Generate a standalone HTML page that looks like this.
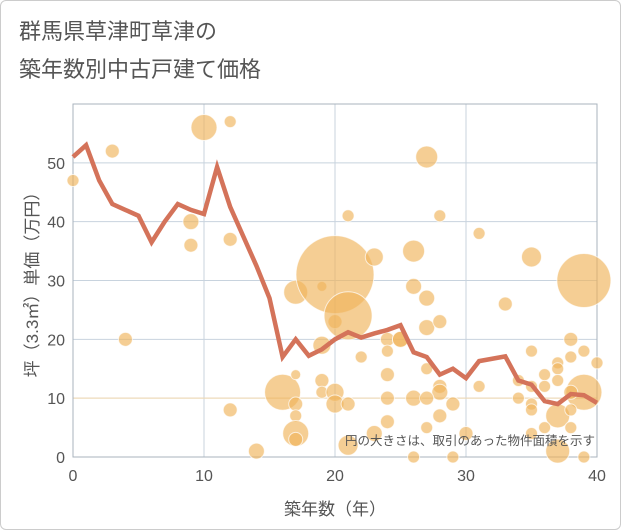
<!DOCTYPE html>
<html><head><meta charset="utf-8"><style>
body{margin:0;background:#fff;}
#wrap{position:relative;width:619px;height:528px;border:1px solid #ccc;border-radius:6px;overflow:hidden;background:#fff;font-family:"Liberation Sans","Noto Sans CJK JP",sans-serif;}
.title{position:absolute;left:18px;color:#555;font-size:22px;line-height:38px;}
</style></head><body>
<div id="wrap">
<div class="title" style="top:12px">群馬県草津町草津の<br>築年数別中古戸建て価格</div>
<svg id="chart" width="621" height="530" style="position:absolute;left:0;top:0"></svg>
</div>
<script>
const years=[0,1,2,3,4,5,6,7,8,9,10,11,12,13,14,15,16,17,18,19,20,21,22,23,24,25,26,27,28,29,30,31,32,33,34,35,36,37,38,39,40];
const avgPrice=[51,53,47,43,42,41,36.5,40,43,42,41.3,49.3,42.5,37.5,32.5,27,17,20,17.2,18.3,20,21.2,20.3,21,21.6,22.4,17.8,17,14,15,13.4,16.3,16.7,17.1,13,12.3,9.5,9,10.7,10.5,9.2];
const bubbleX=[0,3,4,9,9,10,12,12,12,14,16,17,17,17,17,17,17,19,19,19,19,20,20,20,20,21,21,21,21,22,23,23,24,24,24,24,24,25,27,28,31,26,35,39,26,27,33,27,28,25,35,38,39,38,40,37,37,36,27,31,28,34,35,36,37,39,38,28,34,26,27,29,35,35,37,38,28,27,36,35,38,30,39,37,29,26];
const bubbleY=[47,52,20,40,36,56,57,37,8,1,11,28,14,9,7,4,3,29,19,13,11,31,23,11,9,41,24,9,2,17,34,4,20,18,14,10,6,20,51,41,38,35,34,30,29,27,26,22,23,20,18,20,18,17,16,16,15,14,15,12,12,13,12,12,13,11,11,11,10,10,10,9,9,8,7,8,7,5,5,4,5,4,0,1,0,0];
const bubbleR=[6,7,7,8,7,13,6,7,7,8,18,12,5,7,6,13,7,5,9,7,6,39,7,9,9,6,24,7,10,6,9,8,7,6,7,7,7,8,11,6,6,11,10,27,8,8,7,8,7,8,6,7,6,6,6,6,6,6,6,6,7,6,6,6,6,18,7,8,6,8,7,7,6,6,12,6,7,6,6,6,6,7,6,12,6,6];
const xTicks=[0,10,20,30,40];
const yTicks=[0,10,20,30,40,50];
const L=72,R=596,T=103,B=456,XMAX=40,YMAX=60;
const sx=v=>L+(R-L)*v/XMAX, sy=v=>B-(B-T)*v/YMAX;
const svg=document.getElementById('chart');
const NS='http://www.w3.org/2000/svg';
function mk(tag,at,parent){const e=document.createElementNS(NS,tag);for(const k in at)e.setAttribute(k,at[k]);(parent||svg).appendChild(e);return e;}
yTicks.forEach(v=>{
 const g=mk('line',{x1:L,x2:R,y1:sy(v),y2:sy(v),stroke:'#c8d3de','stroke-width':1});
 
 
 const t=mk('text',{x:L-8,y:sy(v)+6,'text-anchor':'end','font-size':16,fill:'#555'});
 t.textContent=v;
 
 
});
xTicks.forEach(v=>{
 const g=mk('line',{x1:sx(v),x2:sx(v),y1:T,y2:B,stroke:'#c8d3de','stroke-width':1});
 
 
 const t=mk('text',{x:sx(v),y:B+24,'text-anchor':'middle','font-size':16,fill:'#555'});
 t.textContent=v;
 
 
});
const ref=mk('line',{x1:L,x2:R,y1:sy(10),y2:sy(10),stroke:'#f3d9b0','stroke-width':1});


const frame=mk('rect',{x:L,y:T,width:R-L,height:B-T,fill:'none',stroke:'#a9b3bd','stroke-width':1});


bubbleX.forEach((x,i)=>{
 const c=mk('circle',{cx:sx(x),cy:sy(bubbleY[i]),r:bubbleR[i],fill:'rgba(240,180,90,0.65)',stroke:'rgba(255,255,255,0.7)','stroke-width':1});
 
 
});
const p=mk('polyline',{points:years.map((y,i)=>sx(y)+','+sy(avgPrice[i])).join(' '),fill:'none',stroke:'#d4735a','stroke-width':4.5,'stroke-linejoin':'miter'});


const n=mk('text',{x:594,y:444,'text-anchor':'end','font-size':12.5,fill:'#555'});
n.textContent='円の大きさは、取引のあった物件面積を示す';


const xl=mk('text',{x:334,y:514,'text-anchor':'middle','font-size':17,fill:'#555'});
xl.textContent='築年数（年）';


const yl=mk('text',{x:0,y:0,'text-anchor':'middle','font-size':17,fill:'#555',transform:'translate(37,'+((T+B)/2)+') rotate(-90)'});
yl.textContent='坪（3.3㎡）単価（万円）';


</script>
</body></html>
